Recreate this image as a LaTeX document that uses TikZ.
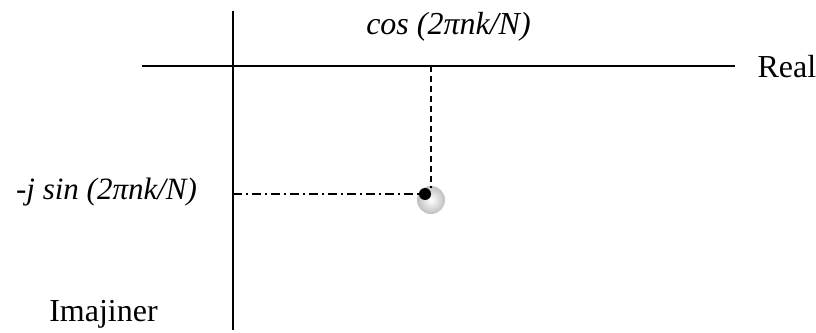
\documentclass[tikz,border=0pt]{standalone}
\usepackage{fontspec}
\setmainfont{Liberation Serif}

\begin{document}
\begin{tikzpicture}[x=1pt, y=-1pt, font=\fontsize{32}{36}\selectfont,
	axis/.style={line width=1.8pt},
	proj/.style={line width=1.5pt, dash pattern=on 6pt off 4pt},
	projdot/.style={line width=1.5pt, dash pattern=on 9pt off 4pt on 2pt off 4pt}]
	\useasboundingbox (0,0) rectangle (816,332);
	\coordinate (reL) at (142,66); \coordinate (reR) at (735,66);
	\coordinate (imT) at (233,11); \coordinate (imB) at (233,330);
	\draw[axis] (reL) -- (reR);
	\draw[axis] (imT) -- (imB);
	\node[right] (real) at (754,67) {Real};
	\node (imaj) at (103.5,314) {Imajiner};
	\node (cosl) at (448.5,27) {\itshape cos (2πnk/N)};
	\node (sinl) at (106.5,192) {\fontsize{31}{35}\selectfont\itshape -j sin (2πnk/N)};
	% the point with its shadow
	\shade[inner color=white, outer color=gray!50] (431,200) circle (14);
	\node[circle, fill=black, inner sep=0pt, minimum size=12pt] (pt) at (425,194) {};
	\coordinate (cosx) at (431,66); \coordinate (sinx) at (233,194);
	\draw[proj] (cosx) -- (cosx |- pt.north);
	\draw[projdot] (sinx) -- (pt.west);
\end{tikzpicture}
\end{document}
